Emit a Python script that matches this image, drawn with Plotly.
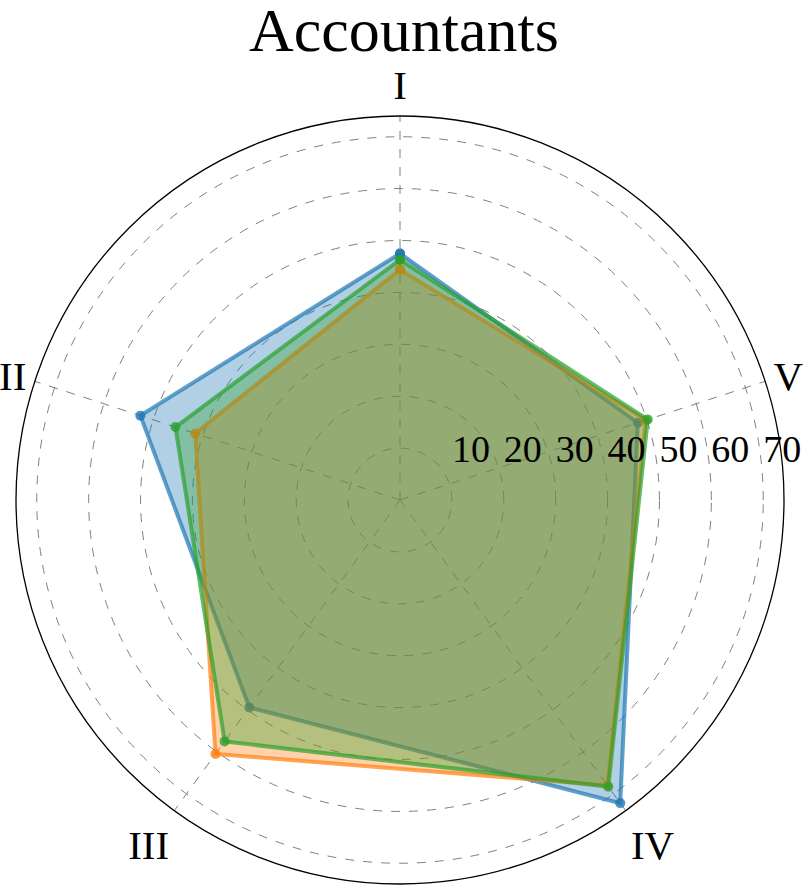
import plotly.graph_objects as go

categories = ["I", "II", "III", "IV", "V"]
series_names = ["Series A", "Series B", "Series C"]
blue_values = [47.5, 52.6, 49.4, 72.2, 48.2]
orange_values = [44.4, 41.5, 60.5, 68.0, 49.8]
green_values = [46.3, 45.5, 57.5, 68.3, 50.2]
radial_ticks = [10, 20, 30, 40, 50, 60, 70]
title_text = "Accountants"

colors = [(31, 119, 180), (255, 127, 14), (44, 160, 44)]
all_values = [blue_values, orange_values, green_values]

FONT = "Liberation Serif, Times New Roman, serif"

fig = go.Figure()
for name, vals, (r, g, b) in zip(series_names, all_values, colors):
    fig.add_trace(go.Scatterpolar(
        r=vals + vals[:1],
        theta=categories + categories[:1],
        name=name,
        mode="lines+markers",
        fill="toself",
        fillcolor=f"rgba({r},{g},{b},0.35)",
        line=dict(color=f"rgba({r},{g},{b},0.7)", width=4),
        marker=dict(color=f"rgba({r},{g},{b},0.8)", size=10),
    ))

W, H = 808, 888
cx, cy, R = 400, 500, 384
# figure space prefix shifts each radial label to start just right of its ring
pad = "\u2007\u2007"
fig.update_layout(
    width=W, height=H,
    margin=dict(l=0, r=0, t=0, b=0),
    paper_bgcolor="white",
    showlegend=False,
    font=dict(family=FONT, color="black"),
    title=dict(text=title_text, x=0.5, xanchor="center", y=1 - 29 / H, yanchor="middle",
               font=dict(family=FONT, size=62, color="black")),
    polar=dict(
        domain=dict(x=[(cx - R) / W, (cx + R) / W], y=[(H - cy - R) / H, (H - cy + R) / H]),
        bgcolor="white",
        angularaxis=dict(
            direction="counterclockwise", rotation=90,
            showline=True, linecolor="black", linewidth=1.3,
            showgrid=True, gridcolor="#808080", griddash="dash", gridwidth=1,
            ticks="", tickfont=dict(family=FONT, size=41, color="black"),
        ),
        radialaxis=dict(
            range=[0, 74], angle=0, side="counterclockwise", tickangle=0,
            tickvals=radial_ticks, ticktext=[pad + str(v) for v in radial_ticks],
            showline=False, showgrid=True, gridcolor="#808080", griddash="dash", gridwidth=1,
            ticks="outside", ticklen=22, tickcolor="rgba(0,0,0,0)",
            tickfont=dict(family=FONT, size=38, color="black"),
        ),
    ),
)

fig.write_html("out.html", config={"displayModeBar": False},
               post_script="document.body.style.margin='0';document.body.style.overflow='hidden';")
